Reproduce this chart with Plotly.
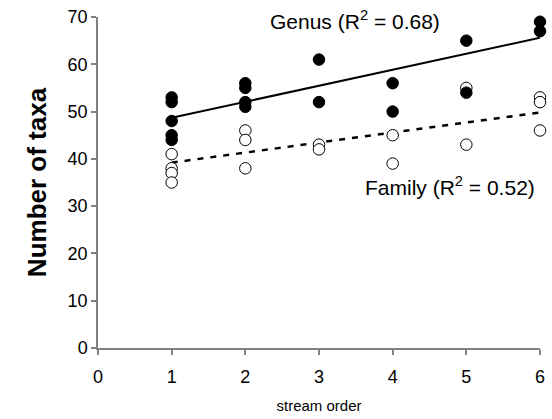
import plotly.graph_objects as go

# Genus (filled) data
genus_x = [1, 1, 1, 1, 1, 2, 2, 2, 2, 3, 3, 4, 4, 5, 5, 6, 6]
genus_y = [53, 52, 48, 45, 44, 56, 55, 52, 51, 61, 52, 56, 50, 65, 54, 69, 67]

# Family (open) data
family_x = [1, 1, 1, 1, 2, 2, 2, 3, 3, 4, 4, 5, 5, 6, 6, 6]
family_y = [41, 38, 37, 35, 46, 44, 38, 43, 42, 45, 39, 55, 43, 53, 52, 46]

# Trend lines
trend_x = [1, 6]
genus_trend = [48.7, 65.6]
family_trend = [39.2, 49.8]

x_ticks = [0, 1, 2, 3, 4, 5, 6]
y_ticks = [0, 10, 20, 30, 40, 50, 60, 70]

FONT = "Liberation Sans, Arial, sans-serif"

fig = go.Figure()
fig.add_trace(go.Scatter(x=trend_x, y=family_trend, mode="lines",
                         line=dict(color="black", width=2.5, dash="6px,7px"),
                         showlegend=False, hoverinfo="skip", cliponaxis=False))
fig.add_trace(go.Scatter(x=trend_x, y=genus_trend, mode="lines",
                         line=dict(color="black", width=2),
                         showlegend=False, hoverinfo="skip", cliponaxis=False))
fig.add_trace(go.Scatter(x=family_x, y=family_y, mode="markers",
                         marker=dict(symbol="circle", size=11.5, color="white",
                                     line=dict(color="black", width=1)),
                         showlegend=False, cliponaxis=False))
fig.add_trace(go.Scatter(x=genus_x, y=genus_y, mode="markers",
                         marker=dict(symbol="circle", size=11.5, color="black",
                                     line=dict(color="black", width=1)),
                         showlegend=False, cliponaxis=False))

fig.add_annotation(x=2.31, y=69.4, xref="x", yref="y", text="Genus (R<sup>2</sup> = 0.68)",
                   showarrow=False, font=dict(family=FONT, size=21, color="black"),
                   xanchor="left", yanchor="middle")
fig.add_annotation(x=5.96, y=34.2, xref="x", yref="y", text="Family (R<sup>2</sup> = 0.52)",
                   showarrow=False, font=dict(family=FONT, size=21, color="black"),
                   xanchor="right", yanchor="middle")

axis_common = dict(showgrid=False, zeroline=False, showline=True, linecolor="#808080",
                   linewidth=1.5, ticks="outside", tickcolor="#808080", ticklen=5,
                   tickwidth=1.5, tickfont=dict(family=FONT, size=18, color="black"))

fig.update_xaxes(range=[0, 6], tickvals=x_ticks, ticklabelstandoff=7,
                 title=dict(text="stream order",
                            font=dict(family=FONT, size=15, color="black"), standoff=14),
                 **axis_common)
fig.update_yaxes(range=[0, 70], tickvals=y_ticks, title=dict(text="<b>Number of taxa</b>",
                 font=dict(family=FONT, size=26, color="black"), standoff=14),
                 **axis_common)

fig.update_layout(width=552, height=419, margin=dict(l=98, r=7, t=15, b=68),
                  plot_bgcolor="white", paper_bgcolor="white")
fig.write_html("out.html", config={"displayModeBar": False},
               post_script="document.body.style.margin='0';")
